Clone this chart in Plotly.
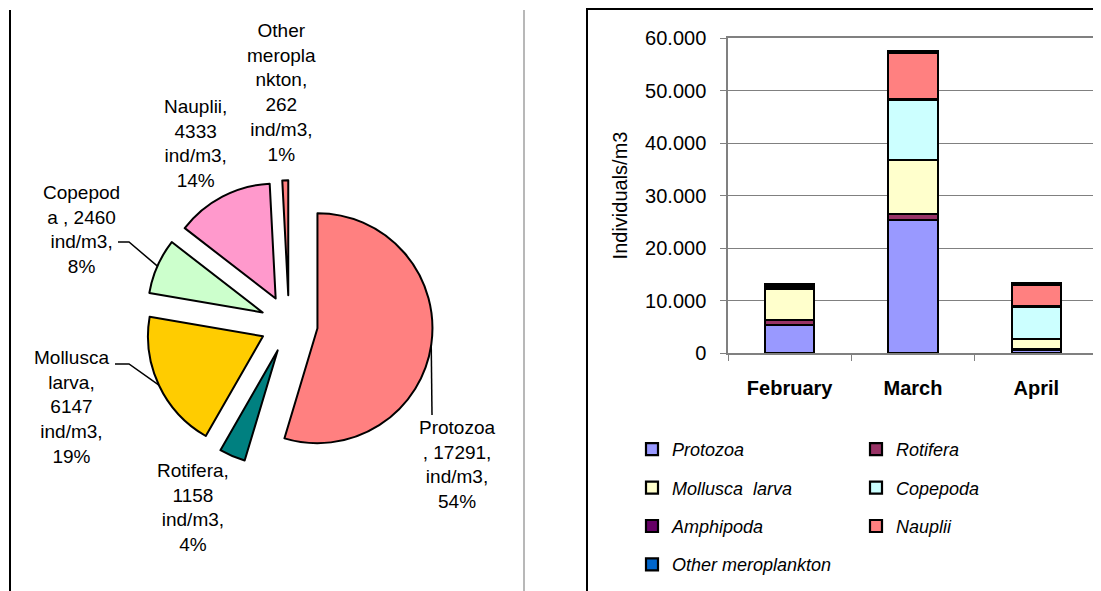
import math
import plotly.graph_objects as go

# ---- pie data (left panel) ----
pie_names = ["Protozoa", "Rotifera", "Mollusca larva", "Copepoda", "Nauplii", "Other meroplankton"]
pie_values = [17291, 1158, 6147, 2460, 4333, 262]
pie_pct = [54, 4, 19, 8, 14, 1]
pie_colors = ["#FF8080", "#008080", "#FFCC00", "#CCFFCC", "#FF99CC", "#FF8080"]
# label text as wrapped in the original chart
pie_label_text = [
    "Protozoa<br>, 17291,<br>ind/m3,<br>54%",
    "Rotifera,<br>1158<br>ind/m3,<br>4%",
    "Mollusca<br>larva,<br>6147<br>ind/m3,<br>19%",
    "Copepod<br>a , 2460<br>ind/m3,<br>8%",
    "Nauplii,<br>4333<br>ind/m3,<br>14%",
    "Other<br>meropla<br>nkton,<br>262<br>ind/m3,<br>1%",
]

# ---- stacked bar data (right panel) ----
months = ["February", "March", "April"]
bar_series = ["Protozoa", "Rotifera", "Mollusca  larva", "Copepoda", "Amphipoda", "Nauplii", "Other meroplankton"]
protozoa = [5300, 25300, 600]
rotifera = [1000, 1200, 100]
mollusca = [5900, 10300, 2000]
copepoda = [250, 11500, 6100]
amphipoda = [350, 100, 50]
nauplii = [250, 8800, 4150]
other_mero = [150, 300, 300]
bar_values = [protozoa, rotifera, mollusca, copepoda, amphipoda, nauplii, other_mero]
bar_colors = ["#9999FF", "#993366", "#FFFFCC", "#CCFFFF", "#660066", "#FF8080", "#0066CC"]

W, H = 1101, 591
OFF = 8  # the page body adds an 8px margin, so shift everything back
FONT = "Liberation Sans, Arial, sans-serif"


def px(x):
    return (x - OFF) / W


def py(y):
    return 1 - (y - OFF) / H


# pie geometry (pixels, page coordinates)
PIE_CX, PIE_CY, PIE_R, PULL = 289, 324, 115, 0.25
half = PIE_R * (1 + PULL)

# label placement (pixel centres) and leader elbows (None = no leader)
label_pos = [(457, 464), (193, 507), (71, 407), (82, 229), (195, 143), (281, 93)]
leader_pts = [[(432, 415)], None, [(129, 364), (115, 364)], [(129, 242), (118, 242)], None, None]

fig = go.Figure()

fig.add_trace(go.Pie(
    labels=pie_names, values=pie_values, sort=False,
    direction="clockwise", rotation=0,
    marker=dict(colors=pie_colors, line=dict(color="black", width=2)),
    pull=[PULL] * len(pie_values),
    textinfo="none", hoverinfo="label+value+percent",
    showlegend=False,
    domain=dict(x=[px(PIE_CX - half), px(PIE_CX + half)],
                y=[py(PIE_CY + half), py(PIE_CY - half)]),
))

for idx, (name, vals, col) in enumerate(zip(bar_series, bar_values, bar_colors)):
    fig.add_trace(go.Bar(
        x=months, y=vals, name=name,
        marker=dict(color=col, line=dict(color="black", width=2.2)),
        legend="legend" if idx % 2 == 0 else "legend2",
        legendgroup=name,
    ))

# pie labels, leader lines start at the outer edge of each slice
total = sum(pie_values)
cum = 0
annotations = []
shapes = []
for v, txt, (lx, ly), lead in zip(pie_values, pie_label_text, label_pos, leader_pts):
    mid = (cum + v / 2) / total * 2 * math.pi
    cum += v
    annotations.append(dict(
        x=px(lx), y=py(ly), xref="paper", yref="paper",
        text=txt, showarrow=False, xanchor="center", yanchor="middle",
        font=dict(family=FONT, size=19, color="black"), align="center",
    ))
    if lead:
        tx = PIE_CX + half * math.sin(mid)
        ty = PIE_CY - half * math.cos(mid)
        path = "M {},{}".format(px(tx), py(ty))
        for ex, ey in lead:
            path += " L {},{}".format(px(ex), py(ey))
        shapes.append(dict(type="path", xref="paper", yref="paper", path=path,
                           line=dict(color="black", width=1.5)))

shapes += [
    dict(type="line", xref="paper", yref="paper", x0=px(10), x1=px(10), y0=py(10), y1=-0.05,
         line=dict(color="black", width=2)),
    dict(type="line", xref="paper", yref="paper", x0=px(524), x1=px(524), y0=py(10), y1=-0.05,
         line=dict(color="#A0A0A0", width=1.5)),
    dict(type="rect", xref="paper", yref="paper", x0=px(587), x1=1.05, y0=-0.05, y1=py(9),
         line=dict(color="black", width=2)),
]

fig.update_layout(
    width=W, height=H,
    margin=dict(l=0, r=0, t=0, b=0),
    paper_bgcolor="white", plot_bgcolor="white",
    font=dict(family=FONT, size=20, color="black"),
    separators=",.",
    barmode="stack", bargap=0.6,
    xaxis=dict(domain=[px(728), px(1098)], automargin=False, showgrid=False, showline=True,
               linecolor="#808080", linewidth=1.5, mirror=True, ticks="outside", ticklen=6,
               tickcolor="#808080", tickson="boundaries", ticklabelstandoff=16,
               tickfont=dict(family=FONT, size=20, color="black", weight="bold")),
    yaxis=dict(domain=[py(353), py(38)], automargin=False, range=[0, 60000], dtick=10000,
               tickformat=",d", showgrid=True, gridcolor="#808080", gridwidth=1,
               showline=True, linecolor="#808080", linewidth=1.5, mirror=True,
               ticks="outside", ticklen=6, tickcolor="#808080", ticklabelstandoff=10,
               zeroline=False, tickfont=dict(family=FONT, size=20, color="black"),
               title=dict(text="Individuals/m3", font=dict(family=FONT, size=20, color="black"),
                          standoff=12)),
    legend=dict(x=px(632), y=py(431), xanchor="left", yanchor="top",
                orientation="v", tracegroupgap=12, itemwidth=30,
                font=dict(family=FONT, size=18, style="italic", color="black")),
    legend2=dict(x=px(856), y=py(431), xanchor="left", yanchor="top",
                 orientation="v", tracegroupgap=12, itemwidth=30,
                 font=dict(family=FONT, size=18, style="italic", color="black")),
    annotations=annotations,
    shapes=shapes,
)

fig.write_html("out.html")
